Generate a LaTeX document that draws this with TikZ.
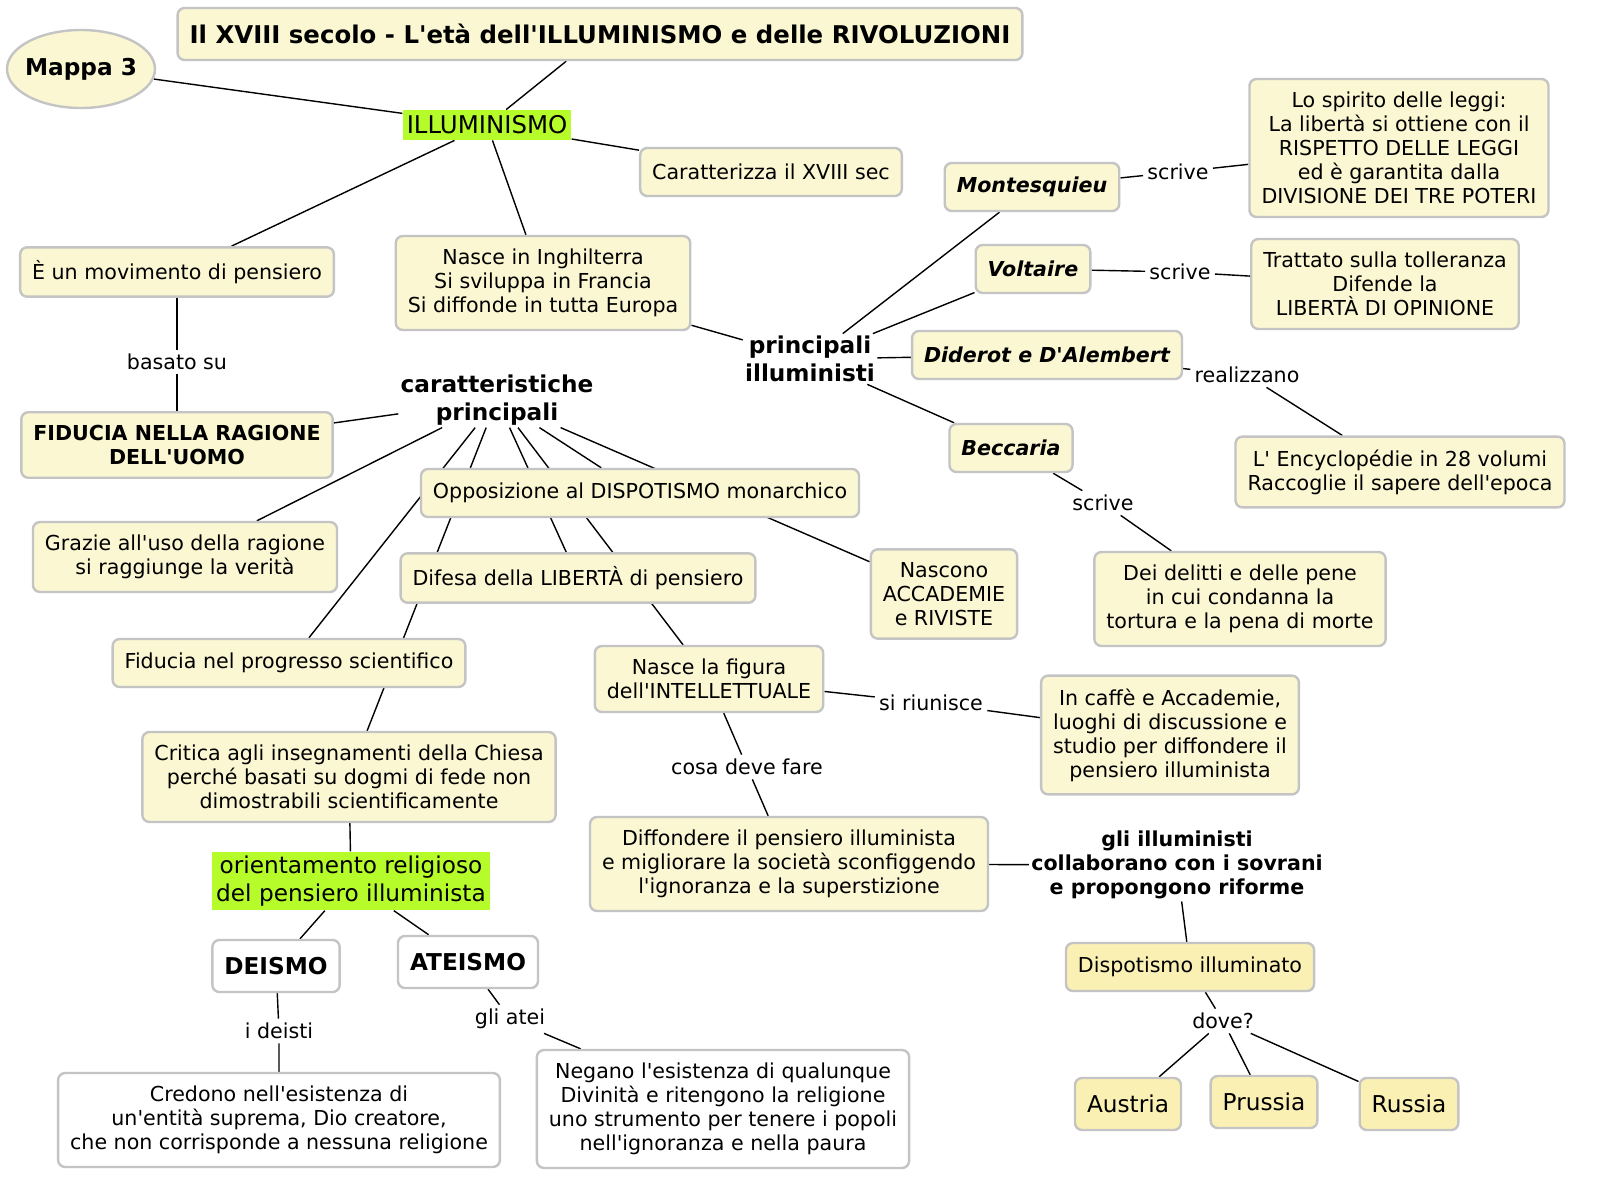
\documentclass[tikz,border=0pt]{standalone}
\usepackage{fontspec}
\setmainfont{DejaVu Sans}[Ligatures=TeXOff]
\usetikzlibrary{shapes.geometric,backgrounds}

\definecolor{mapfill}{HTML}{FAF7D2}
\definecolor{mapborder}{HTML}{C4C4C4}
\definecolor{mapyellow}{HTML}{FAF0B4}
\definecolor{mapgreen}{HTML}{B6FC2A}

\newcommand{\txtnormal}{\fontsize{10.3}{12}\selectfont}
\newcommand{\txtbig}{\fontsize{11.6}{14}\selectfont}

\begin{document}
\begin{tikzpicture}[x=0.5pt, y=-0.5pt,
    concept/.style={draw=mapborder, line width=1.2pt, rounded corners=3.5pt, fill=mapfill, align=center, inner xsep=6pt, inner ysep=6.5pt, minimum height=24pt, font=\txtnormal},
    person/.style={concept, font=\txtnormal\bfseries\itshape},
    whitebox/.style={concept, fill=white},
    statebox/.style={concept, fill=mapyellow, minimum height=26pt, font=\txtbig},
    greenbox/.style={fill=mapgreen, align=center, inner xsep=2pt, inner ysep=2pt, font=\txtbig},
    heading/.style={align=center, inner sep=1pt, font=\txtbig\bfseries},
    linkword/.style={inner sep=2pt, font=\txtnormal},
    link/.style={line width=0.7pt}
]
    % Title and map number
    \node [concept, minimum height=26pt, font=\fontsize{12.2}{14}\selectfont\bfseries] (title) at (600, 34) {Il XVIII secolo - L'età dell'ILLUMINISMO e delle RIVOLUZIONI};
    \node [ellipse, draw=mapborder, line width=1.2pt, fill=mapfill, minimum width=74pt, minimum height=39pt, inner xsep=-3pt, inner ysep=0pt, font=\txtbig\bfseries] (mappa) at (81, 69) {Mappa 3};

    % Illuminismo
    \node [greenbox, minimum height=15pt, font=\fontsize{12.2}{14}\selectfont] (illum) at (487, 125) {ILLUMINISMO};
    \node [concept] (caratt) at (771, 172) {Caratterizza il XVIII sec};
    \node [concept] (movim) at (177, 272) {È un movimento di pensiero};
    \node [concept] (nasce) at (543, 283) {Nasce in Inghilterra\\Si sviluppa in Francia\\Si diffonde in tutta Europa};
    \node [linkword] (basato) at (177, 362) {basato su};
    \node [concept, font=\txtnormal\bfseries] (fiducia) at (177, 445) {FIDUCIA NELLA RAGIONE\\DELL'UOMO};

    % Principali illuministi
    \node [heading] (princill) at (810, 359) {principali\\illuministi};
    \node [person] (montesq) at (1032, 187) {Montesquieu};
    \node [linkword] (scrivem) at (1178, 172) {scrive};
    \node [concept] (spirito) at (1399, 148) {Lo spirito delle leggi:\\La libertà si ottiene con il\\RISPETTO DELLE LEGGI\\ed è garantita dalla\\DIVISIONE DEI TRE POTERI};
    \node [person] (voltaire) at (1033, 269) {Voltaire};
    \node [linkword] (scrivev) at (1180, 272) {scrive};
    \node [concept] (trattato) at (1385, 284) {Trattato sulla tolleranza\\Difende la\\LIBERTÀ DI OPINIONE};
    \node [person] (diderot) at (1047, 355) {Diderot e D'Alembert};
    \node [linkword] (realizz) at (1247, 375) {realizzano};
    \node [concept] (encyc) at (1400, 472) {L' Encyclopédie in 28 volumi\\Raccoglie il sapere dell'epoca};
    \node [person] (beccaria) at (1011, 448) {Beccaria};
    \node [linkword] (scriveb) at (1103, 503) {scrive};
    \node [concept] (delitti) at (1240, 599) {Dei delitti e delle pene\\in cui condanna la\\tortura e la pena di morte};

    % Caratteristiche principali
    \node [heading] (carprinc) at (497, 400) {caratteristiche\\principali};
    \node [concept] (oppos) at (640, 493) {Opposizione al DISPOTISMO monarchico};
    \node [concept] (grazie) at (185, 557) {Grazie all'uso della ragione\\si raggiunge la verità};
    \node [concept] (difesa) at (578, 578) {Difesa della LIBERTÀ di pensiero};
    \node [concept] (nascono) at (944, 594) {Nascono\\ACCADEMIE\\e RIVISTE};
    \node [concept] (progr) at (289, 663) {Fiducia nel progresso scientifico};
    \node [concept] (critica) at (349, 777) {Critica agli insegnamenti della Chiesa\\perché basati su dogmi di fede non\\dimostrabili scientificamente};

    % Intellettuale
    \node [concept] (intell) at (709, 679) {Nasce la figura\\dell'INTELLETTUALE};
    \node [linkword] (riunisce) at (931, 703) {si riunisce};
    \node [concept] (caffe) at (1170, 735) {In caffè e Accademie,\\luoghi di discussione e\\studio per diffondere il\\pensiero illuminista};
    \node [linkword] (cosa) at (747, 767) {cosa deve fare};
    \node [concept] (diffond) at (789, 864) {Diffondere il pensiero illuminista\\e migliorare la società sconfiggendo\\l'ignoranza e la superstizione};
    \node [align=center, inner sep=1pt, font=\txtnormal\bfseries] (collab) at (1177, 865) {gli illuministi\\collaborano con i sovrani\\e propongono riforme};

    % Dispotismo illuminato
    \node [statebox, minimum height=24pt, font=\txtnormal] (dispill) at (1190, 967) {Dispotismo illuminato};
    \node [linkword] (dove) at (1223, 1021) {dove?};
    \node [statebox] (austria) at (1128, 1104) {Austria};
    \node [statebox] (prussia) at (1264, 1102) {Prussia};
    \node [statebox] (russia) at (1409, 1104) {Russia};

    % Orientamento religioso
    \node [greenbox] (orient) at (351, 881) {orientamento religioso\\del pensiero illuminista};
    \node [whitebox, minimum height=26pt, font=\txtbig\bfseries] (deismo) at (276, 966) {DEISMO};
    \node [whitebox, minimum height=26pt, font=\txtbig\bfseries] (ateismo) at (468, 962) {ATEISMO};
    \node [linkword] (ideisti) at (279, 1031) {i deisti};
    \node [linkword] (gliatei) at (510, 1019) {gli atei};
    \node [whitebox] (credono) at (279, 1120) {Credono nell'esistenza di\\un'entità suprema, Dio creatore,\\che non corrisponde a nessuna religione};
    \node [whitebox] (negano) at (723, 1109) {Negano l'esistenza di qualunque\\Divinità e ritengono la religione\\uno strumento per tenere i popoli\\nell'ignoranza e nella paura};

    % Connectors
    \begin{scope}[on background layer]
        \fill [white] (0, 0) rectangle (1600, 1204);
        \draw [link] (mappa) -- (illum);
        \draw [link] (title) -- (illum);
        \draw [link] (illum) -- (caratt);
        \draw [link] (illum) -- (movim);
        \draw [link] (illum) -- (nasce);
        \draw [link] (movim) -- (basato) (basato) -- (fiducia);
        \draw [link] (nasce) -- (princill);

        \draw [link] (princill) -- (montesq);
        \draw [link] (princill) -- (voltaire);
        \draw [link] (princill) -- (diderot);
        \draw [link] (princill) -- (beccaria);
        \draw [link] (montesq) -- (scrivem) (scrivem) -- (spirito);
        \draw [link] (voltaire) -- (scrivev) (scrivev) -- (trattato);
        \draw [link] (diderot) -- (realizz) (realizz) -- (encyc);
        \draw [link] (beccaria) -- (scriveb) (scriveb) -- (delitti);

        \draw [link] (fiducia) -- (carprinc);
        \draw [link] (carprinc) -- (grazie);
        \draw [link] (carprinc) -- (progr);
        \draw [link] (carprinc) -- (critica);
        \draw [link] (carprinc) -- (difesa);
        \draw [link] (carprinc) -- (intell);
        \draw [link] (carprinc) -- (oppos);
        \draw [link] (carprinc) -- (nascono);

        \draw [link] (intell) -- (riunisce) (riunisce) -- (caffe);
        \draw [link] (intell) -- (cosa) (cosa) -- (diffond);
        \draw [link] (diffond) -- (collab);
        \draw [link] (collab) -- (dispill);
        \draw [link] (dispill) -- (dove);
        \draw [link] (dove) -- (austria);
        \draw [link] (dove) -- (prussia);
        \draw [link] (dove) -- (russia);

        \draw [link] (critica) -- (orient);
        \draw [link] (orient) -- (deismo);
        \draw [link] (orient) -- (ateismo);
        \draw [link] (deismo) -- (ideisti) (ideisti) -- (credono);
        \draw [link] (ateismo) -- (gliatei) (gliatei) -- (negano);
    \end{scope}
\end{tikzpicture}
\end{document}
